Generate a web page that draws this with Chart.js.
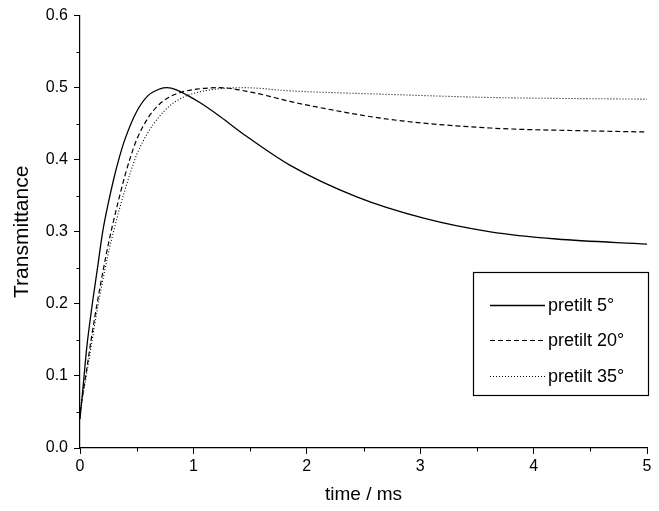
<!DOCTYPE html>
<html>
<head>
<meta charset="utf-8">
<script src="https://cdn.jsdelivr.net/npm/chart.js@4.4.1/dist/chart.umd.min.js"></script>
<style>
  html, body { margin: 0; padding: 0; background: #ffffff; }
  #wrap { width: 659px; height: 511px; }
</style>
</head>
<body>
<div id="wrap"><canvas id="c" width="659" height="511"></canvas></div>
<script>
// ---- data ----
const seriesLabels = ['pretilt 5°', 'pretilt 20°', 'pretilt 35°'];

const time5  = [0, 0.03, 0.06, 0.10, 0.15, 0.20, 0.25, 0.30, 0.35, 0.40, 0.50, 0.60, 0.70, 0.77, 0.85, 0.94, 1.06, 1.235, 1.455, 1.85, 2.44, 3.03, 3.62, 4.2, 5.0];
const trans5 = [0.040, 0.090, 0.140, 0.190, 0.245, 0.300, 0.340, 0.375, 0.405, 0.430, 0.467, 0.489, 0.498, 0.500, 0.497, 0.490, 0.479, 0.460, 0.434, 0.3925, 0.3485, 0.319, 0.300, 0.290, 0.283];

const time20  = [0, 0.05, 0.10, 0.15, 0.20, 0.25, 0.30, 0.35, 0.40, 0.45, 0.50, 0.60, 0.70, 0.80, 0.90, 1.03, 1.23, 1.53, 1.85, 2.06, 2.73, 3.62, 4.5, 5.0];
const trans20 = [0.050, 0.100, 0.152, 0.200, 0.243, 0.283, 0.318, 0.350, 0.380, 0.406, 0.428, 0.458, 0.477, 0.488, 0.494, 0.498, 0.500, 0.493, 0.481, 0.474, 0.456, 0.444, 0.440, 0.4385];

const time35  = [0, 0.05, 0.10, 0.15, 0.20, 0.25, 0.30, 0.35, 0.40, 0.45, 0.50, 0.60, 0.70, 0.80, 0.90, 1.0, 1.2, 1.45, 1.85, 2.73, 3.62, 5.0];
const trans35 = [0.050, 0.095, 0.143, 0.190, 0.232, 0.270, 0.303, 0.333, 0.360, 0.385, 0.407, 0.438, 0.460, 0.476, 0.486, 0.492, 0.498, 0.500, 0.4956, 0.4906, 0.4864, 0.484];

const xTicks = [0, 1, 2, 3, 4, 5];
const yTicks = [0.0, 0.1, 0.2, 0.3, 0.4, 0.5, 0.6];
const xMinorTicks = [0.5, 1.5, 2.5, 3.5, 4.5];
const yMinorTicks = [0.05, 0.15, 0.25, 0.35, 0.45, 0.55];

const xTitle = 'time / ms';
const yTitle = 'Transmittance';

// ---- build ----
function pts(xs, ys) { return xs.map((x, i) => ({ x: x, y: ys[i] })); }

const FONT = '"Liberation Sans", Arial, Helvetica, sans-serif';

const datasets = [
  { label: seriesLabels[0], data: pts(time5, trans5), borderDash: [] , borderWidth: 1.3 },
  { label: seriesLabels[1], data: pts(time20, trans20), borderDash: [5, 3], borderWidth: 1.2 },
  { label: seriesLabels[2], data: pts(time35, trans35), borderDash: [1, 2], borderWidth: 1.1 }
].map(d => Object.assign(d, {
  borderColor: '#000000',
  backgroundColor: '#000000',
  pointRadius: 0,
  fill: false,
  cubicInterpolationMode: 'monotone'
}));

const minorTicksPlugin = {
  id: 'minorTicks',
  afterDraw(chart) {
    const ctx = chart.ctx;
    const xs = chart.scales.x, ys = chart.scales.y;
    const area = chart.chartArea;
    ctx.save();
    ctx.strokeStyle = '#000';
    ctx.lineWidth = 1;
    ctx.beginPath();
    xMinorTicks.forEach(v => {
      const px = Math.round(xs.getPixelForValue(v)) + 0.5;
      ctx.moveTo(px, area.bottom);
      ctx.lineTo(px, area.bottom + 3.5);
    });
    yMinorTicks.forEach(v => {
      const py = Math.round(ys.getPixelForValue(v)) + 0.5;
      ctx.moveTo(area.left, py);
      ctx.lineTo(area.left - 3.5, py);
    });
    ctx.stroke();
    ctx.restore();
  }
};

const boxLegendPlugin = {
  id: 'boxLegend',
  afterDraw(chart) {
    const ctx = chart.ctx;
    const left = 473, top = 272, right = 649, bottom = 396;
    ctx.save();
    ctx.fillStyle = '#fff';
    ctx.fillRect(left, top, right - left, bottom - top);
    ctx.strokeStyle = '#000';
    ctx.lineWidth = 1.2;
    ctx.strokeRect(left + 0.5, top + 0.5, right - left - 1, bottom - top - 1);
    const rows = [305, 340, 376];
    ctx.font = '18px ' + FONT;
    ctx.textBaseline = 'middle';
    ctx.textAlign = 'left';
    chart.data.datasets.forEach((ds, i) => {
      const y = rows[i] + 0.5;
      ctx.beginPath();
      ctx.setLineDash(ds.borderDash || []);
      ctx.lineWidth = ds.borderWidth;
      ctx.strokeStyle = ds.borderColor;
      ctx.moveTo(490, y);
      ctx.lineTo(545, y);
      ctx.stroke();
      ctx.setLineDash([]);
      ctx.fillStyle = '#000';
      ctx.fillText(ds.label, 548, rows[i] + 1);
    });
    ctx.restore();
  }
};

new Chart(document.getElementById('c'), {
  type: 'line',
  data: { datasets: datasets },
  plugins: [minorTicksPlugin, boxLegendPlugin],
  options: {
    responsive: false,
    animation: false,
    devicePixelRatio: 1,
    layout: { padding: { top: 15, right: 12, left: 0, bottom: 0 } },
    plugins: { legend: { display: false }, tooltip: { enabled: false } },
    scales: {
      x: {
        type: 'linear',
        min: 0, max: 5,
        afterFit(scale) { scale.height = 63; },
        afterBuildTicks(scale) { scale.ticks = xTicks.map(v => ({ value: v })); },
        ticks: {
          color: '#000',
          font: { family: FONT, size: 16 },
          padding: 3,
          maxRotation: 0,
          autoSkip: false,
          callback: v => String(v)
        },
        grid: { display: true, drawOnChartArea: false, drawTicks: true, tickLength: 6, color: '#000', lineWidth: 1 },
        border: { display: true, color: '#000', width: 1.2 },
        title: { display: true, text: xTitle, color: '#000', font: { family: FONT, size: 19 }, padding: { top: 0, bottom: 5 } }
      },
      y: {
        type: 'linear',
        min: 0, max: 0.6,
        afterFit(scale) { scale.width = 80; },
        afterBuildTicks(scale) { scale.ticks = yTicks.map(v => ({ value: v })); },
        ticks: {
          color: '#000',
          font: { family: FONT, size: 16 },
          padding: 6,
          autoSkip: false,
          callback: v => Number(v).toFixed(1)
        },
        grid: { display: true, drawOnChartArea: false, drawTicks: true, tickLength: 6, color: '#000', lineWidth: 1 },
        border: { display: true, color: '#000', width: 1.2 },
        title: { display: true, text: yTitle, color: '#000', font: { family: FONT, size: 21 }, padding: { top: 10, bottom: 0 } }
      }
    }
  }
});
</script>
</body>
</html>
